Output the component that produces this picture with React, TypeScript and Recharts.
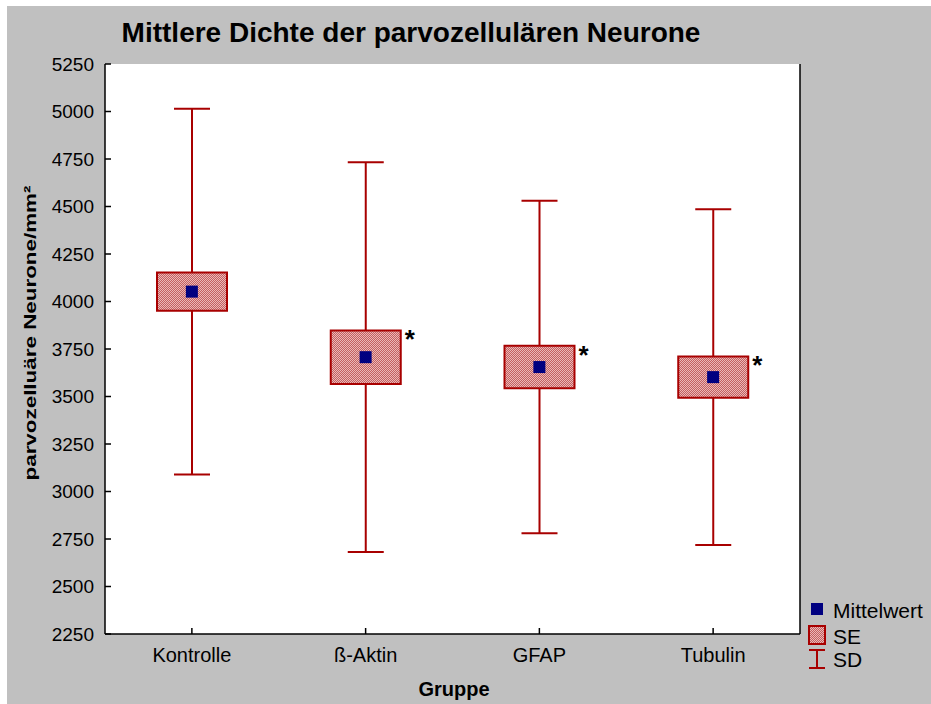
import React from 'react';
import { ComposedChart, Bar, Scatter, XAxis, YAxis, CartesianGrid, LabelList } from 'recharts';

// Gruppen und Kennwerte
const groups = ['Kontrolle', 'ß-Aktin', 'GFAP', 'Tubulin'];
const means = [4052, 3707, 3655, 3602];
const se = [101, 141, 112, 109];
const sd = [962, 1026, 875, 883];
const stars = ['', '*', '*', '*'];
const yTicks = [2250, 2500, 2750, 3000, 3250, 3500, 3750, 4000, 4250, 4500, 4750, 5000, 5250];

const FONT = '"Liberation Sans", Arial, sans-serif';
const RED = '#a80000';
const NAVY = '#000080';

const data = groups.map((name, i) => ({
  name,
  mean: means[i],
  seRange: [means[i] - se[i], means[i] + se[i]],
  sdRange: [means[i] - sd[i], means[i] + sd[i]],
  star: stars[i],
}));

// inward tick marks, like the original software draws them
const LeftTick = (props: any) => {
  const { x, y, payload } = props;
  return (
    <g>
      <line x1={x} x2={x + 6} y1={y} y2={y} stroke="#000" strokeWidth={1.5} />
      <text x={x - 11} y={y} textAnchor="end" dominantBaseline="central" fontSize={19} fontFamily={FONT} fill="#000">
        {payload.value}
      </text>
    </g>
  );
};

const RightTick = (props: any) => {
  const { x, y } = props;
  return <line x1={x - 6} x2={x} y1={y} y2={y} stroke="#000" strokeWidth={1.5} />;
};

const BottomTick = (props: any) => {
  const { x, y, payload } = props;
  return (
    <g>
      <line x1={x} x2={x} y1={y - 6} y2={y} stroke="#000" strokeWidth={1.5} />
      <text x={x} y={y + 28} textAnchor="middle" fontSize={20} fontFamily={FONT} fill="#000">
        {payload.value}
      </text>
    </g>
  );
};

const TopTick = (props: any) => {
  const { x, y } = props;
  return <line x1={x} x2={x} y1={y} y2={y + 6} stroke="#000" strokeWidth={1.5} />;
};

// SD whisker: vertical line plus two caps
const Whisker = (props: any) => {
  const { x, y, width, height } = props;
  const cx = x + width / 2;
  return (
    <g stroke={RED} strokeWidth={2}>
      <line x1={cx} x2={cx} y1={y} y2={y + height} />
      <line x1={x} x2={x + width} y1={y} y2={y} />
      <line x1={x} x2={x + width} y1={y + height} y2={y + height} />
    </g>
  );
};

const MeanMarker = (props: any) => {
  const { cx, cy } = props;
  return <rect x={cx - 6} y={cy - 6} width={12} height={12} fill={NAVY} />;
};

const StarLabel = (props: any) => {
  const { x, y, width, value } = props;
  if (!value) return null;
  return (
    <text x={x + width + 9} y={y + 18} textAnchor="middle" fontSize={26} fontWeight="bold" fontFamily={FONT} fill="#000">
      {value}
    </text>
  );
};

export default function App() {
  return (
    <div style={{ position: 'fixed', left: 7, top: 6, width: 924, height: 698, background: '#c0c0c0' }}>
      <ComposedChart width={924} height={698} data={data} margin={{ top: 58, right: 121, bottom: 0, left: 0 }}>
        <defs>
          <pattern id="hatch" width="2" height="2" patternUnits="userSpaceOnUse">
            <rect width="2" height="2" fill="#eab8b8" />
            <rect width="1" height="1" fill="#c46060" />
            <rect x="1" y="1" width="1" height="1" fill="#c46060" />
          </pattern>
        </defs>
        <CartesianGrid fill="#fff" horizontal={false} vertical={false} />
        <XAxis
          dataKey="name"
          xAxisId={0}
          height={70}
          axisLine={{ stroke: '#000', strokeWidth: 1.5 }}
          tickLine={false}
          tickSize={0}
          tickMargin={0}
          tick={<BottomTick />}
          interval={0}
        />
        <XAxis
          dataKey="name"
          xAxisId="top"
          orientation="top"
          height={0}
          axisLine={{ stroke: '#000', strokeWidth: 1.5 }}
          tickLine={false}
          tickSize={0}
          tickMargin={0}
          tick={<TopTick />}
          interval={0}
        />
        <YAxis
          type="number"
          domain={[2250, 5250]}
          ticks={yTicks}
          width={98}
          axisLine={{ stroke: '#000', strokeWidth: 1.5 }}
          tickLine={false}
          tickSize={0}
          tickMargin={0}
          tick={<LeftTick />}
          interval={0}
        />
        <YAxis
          yAxisId="right"
          orientation="right"
          type="number"
          domain={[2250, 5250]}
          ticks={yTicks}
          width={10}
          axisLine={{ stroke: '#000', strokeWidth: 1.5 }}
          tickLine={false}
          tickSize={0}
          tickMargin={0}
          tick={<RightTick />}
          interval={0}
        />
        <Bar dataKey="sdRange" xAxisId="top" barSize={36} shape={<Whisker />} isAnimationActive={false} />
        <Bar dataKey="seRange" barSize={70} fill="url(#hatch)" stroke={RED} strokeWidth={2} isAnimationActive={false}>
          <LabelList dataKey="star" content={<StarLabel />} />
        </Bar>
        <Scatter dataKey="mean" shape={<MeanMarker />} isAnimationActive={false} />
      </ComposedChart>

      <svg width={924} height={698} style={{ position: 'absolute', left: 0, top: 0, pointerEvents: 'none' }} fontFamily={FONT}>
        <text x={404} y={36} textAnchor="middle" fontSize={28} fontWeight="bold" fill="#000">
          Mittlere Dichte der parvozellulären Neurone
        </text>
        <text
          transform="translate(23,327) rotate(-90)"
          textAnchor="middle"
          dominantBaseline="central"
          fontSize={17}
          fontWeight="bold"
          textLength={295}
          lengthAdjust="spacingAndGlyphs"
          fill="#000"
        >
          parvozelluäre Neurone/mm²
        </text>
        <text x={447} y={690} textAnchor="middle" fontSize={20} fontWeight="bold" fill="#000">
          Gruppe
        </text>

        {/* Legende */}
        <rect x={804} y={597} width={12} height={12} fill={NAVY} />
        <text x={826} y={604} dominantBaseline="central" fontSize={21} fill="#000">Mittelwert</text>
        <rect x={802} y={620} width={16} height={18} fill="url(#hatch)" stroke={RED} strokeWidth={2} />
        <text x={826} y={630} dominantBaseline="central" fontSize={21} fill="#000">SE</text>
        <g stroke={RED} strokeWidth={2}>
          <line x1={810} x2={810} y1={644} y2={662} />
          <line x1={802} x2={818} y1={644} y2={644} />
          <line x1={802} x2={818} y1={662} y2={662} />
        </g>
        <text x={826} y={653} dominantBaseline="central" fontSize={21} fill="#000">SD</text>
      </svg>
    </div>
  );
}
